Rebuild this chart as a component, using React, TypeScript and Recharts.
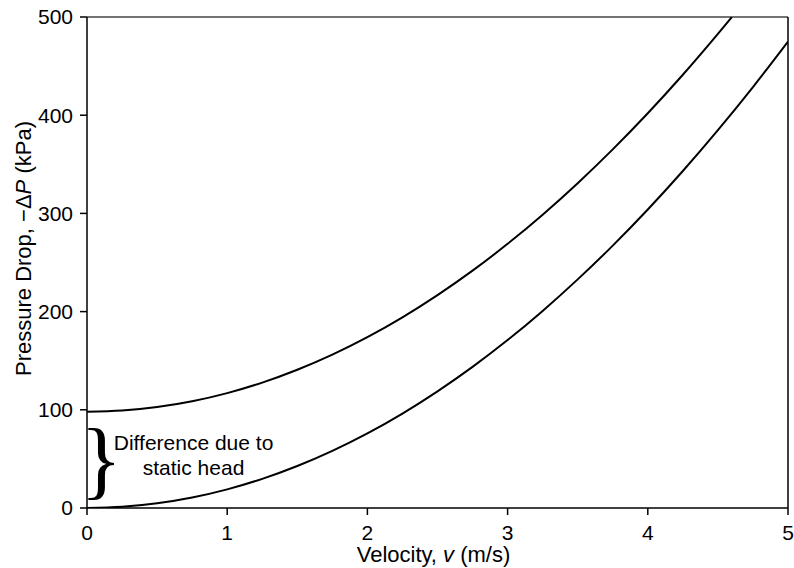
import React from "react";
import { LineChart, Line, XAxis, YAxis, ReferenceLine, ReferenceDot, Label } from "recharts";

const velocity = [0, 0.25, 0.5, 0.75, 1, 1.25, 1.5, 1.75, 2, 2.25, 2.5, 2.75, 3, 3.25, 3.5, 3.75, 4, 4.25, 4.5, 4.75, 5];
const lowerDrop = [0, 1.2, 4.8, 10.7, 19, 29.7, 42.8, 58.2, 76, 96.2, 118.8, 143.7, 171, 200.7, 232.8, 267.2, 304, 343.2, 384.8, 428.7, 475];
const upperVelocity = [0, 0.25, 0.5, 0.75, 1, 1.25, 1.5, 1.75, 2, 2.25, 2.5, 2.75, 3, 3.25, 3.5, 3.75, 4, 4.25, 4.5, 4.6];
const upperDrop = [98, 99.2, 102.8, 108.7, 117, 127.7, 140.8, 156.2, 174, 194.2, 216.8, 241.7, 269, 298.7, 330.8, 365.2, 402, 441.2, 482.8, 500];
const xTicks = [0, 1, 2, 3, 4, 5];
const yTicks = [0, 100, 200, 300, 400, 500];
const noteLines = ["Difference due to", "static head"];

const lowerData = velocity.map((v, i) => ({ v, dp: lowerDrop[i] }));
const upperData = upperVelocity.map((v, i) => ({ v, dp: upperDrop[i] }));

const FONT = "'Liberation Sans', Arial, Helvetica, sans-serif";

const XLabel = (props: any) => {
  const vb = props.viewBox;
  const cx = vb.x + vb.width / 2 - 4;
  return (
    <text x={cx} y={562} textAnchor="middle" fontFamily={FONT} fontSize={22} fill="#000">
      Velocity, <tspan fontStyle="italic">v</tspan> (m/s)
    </text>
  );
};

const YLabel = (props: any) => {
  const vb = props.viewBox;
  const cy = vb.y + vb.height / 2 - 14;
  const cx = 31;
  return (
    <text x={cx} y={cy} transform={`rotate(-90 ${cx} ${cy})`} textAnchor="middle" fontFamily={FONT} fontSize={22} fill="#000">
      Pressure Drop, −Δ<tspan fontStyle="italic">P</tspan> (kPa)
    </text>
  );
};

const BraceLabel = (props: any) => {
  const vb = props.viewBox;
  const cx = vb.x + vb.width / 2;
  const cy = vb.y + vb.height / 2;
  return (
    <text x={cx} y={cy + 25} textAnchor="middle" fontFamily="'Liberation Serif', 'DejaVu Serif', serif" fontSize={86} fill="#000">
      {"}"}
    </text>
  );
};

const NoteLabel = (props: any) => {
  const vb = props.viewBox;
  const cx = vb.x + vb.width / 2;
  const cy = vb.y + vb.height / 2;
  return (
    <text textAnchor="middle" fontFamily={FONT} fontSize={21} fill="#000">
      {noteLines.map((t, i) => (
        <tspan key={i} x={cx} y={cy - 5 + i * 25}>{t}</tspan>
      ))}
    </text>
  );
};

export default function App() {
  return (
    <div style={{ position: "absolute", left: 0, top: 0 }}>
      <LineChart width={794} height={568} margin={{ top: 17, right: 6, bottom: 0, left: 0 }}>
        <XAxis
          type="number"
          dataKey="v"
          domain={[0, 5]}
          ticks={xTicks}
          allowDataOverflow
          height={60}
          stroke="#000"
          strokeWidth={1.5}
          tickSize={7}
          tickMargin={10}
          tick={{ fill: "#000", fontSize: 21, fontFamily: FONT }}
        >
          <Label content={<XLabel />} />
        </XAxis>
        <YAxis
          type="number"
          dataKey="dp"
          domain={[0, 500]}
          ticks={yTicks}
          allowDataOverflow
          width={87}
          stroke="#000"
          strokeWidth={1.5}
          tickSize={7}
          tickMargin={7}
          tick={{ fill: "#000", fontSize: 21, fontFamily: FONT }}
        >
          <Label content={<YLabel />} />
        </YAxis>
        <ReferenceLine y={500} stroke="#444" strokeWidth={1.5} />
        <ReferenceLine x={5} stroke="#000" strokeWidth={1.5} />
        <Line data={upperData} dataKey="dp" type="monotone" stroke="#000" strokeWidth={2} dot={false} isAnimationActive={false} />
        <Line data={lowerData} dataKey="dp" type="monotone" stroke="#000" strokeWidth={2} dot={false} isAnimationActive={false} />
        <ReferenceDot x={0.1} y={46} r={0} fill="none" stroke="none" label={<BraceLabel />} />
        <ReferenceDot x={0.76} y={54} r={0} fill="none" stroke="none" label={<NoteLabel />} />
      </LineChart>
    </div>
  );
}
